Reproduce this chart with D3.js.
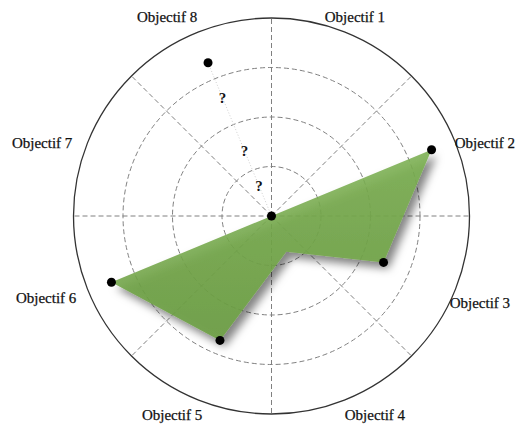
<!DOCTYPE html>
<html>
<head>
<meta charset="utf-8">
<script src="https://cdn.jsdelivr.net/npm/d3@7/dist/d3.min.js"></script>
<style>
  html, body { margin: 0; padding: 0; background: #fff; }
  svg { display: block; }
  text { font-family: "Liberation Serif", "Times New Roman", serif; }
</style>
</head>
<body>
<svg id="chart" width="525" height="425"></svg>
<script>
// ---- data ----
const categories = ["Objectif 1", "Objectif 2", "Objectif 3", "Objectif 4",
                    "Objectif 5", "Objectif 6", "Objectif 7", "Objectif 8"];
// known scores (Objectif 1 .. Objectif 7); Objectif 8 is uncertain
const knownCategories = ["Objectif 1", "Objectif 2", "Objectif 3", "Objectif 4",
                         "Objectif 5", "Objectif 6", "Objectif 7"];
const knownValues = [0, 3.5, 2.45, 0.78, 2.72, 3.5, 0];
// categories whose vertex carries a dot
const dottedCategories = ["Objectif 2", "Objectif 3", "Objectif 5", "Objectif 6", "Objectif 7"];
// uncertain score for Objectif 8 and the question marks along its axis
const uncertainCategory = "Objectif 8";
const uncertainValue = 3.35;
const questionValues = [0.66, 1.43, 2.59];
const ringValues = [1, 2, 3, 4];
const maxValue = 4;

// ---- layout ----
const cx = 271.5, cy = 216, R = 198;
const svg = d3.select("#chart");
const defs = svg.append("defs");

const rScale = d3.scaleLinear().domain([0, maxValue]).range([0, R]);
const angleScale = d3.scaleBand().domain(categories).range([0, 2 * Math.PI]);
const labelAngle = c => angleScale(c) + angleScale.bandwidth() / 2; // 22.5°, 67.5°, ...

const g = svg.append("g").attr("transform", `translate(${cx},${cy})`);
const pt = (c, v) => {
  const a = labelAngle(c), r = rScale(v);
  return [r * Math.sin(a), -r * Math.cos(a)];
};

// shadow filter & gradient
const f = defs.append("filter").attr("id", "shadow")
  .attr("x", "-20%").attr("y", "-20%").attr("width", "140%").attr("height", "140%");
f.append("feDropShadow").attr("dx", 5).attr("dy", 6).attr("stdDeviation", 4)
  .attr("flood-color", "#000").attr("flood-opacity", 0.55);
const grad = defs.append("linearGradient").attr("id", "greenGrad")
  .attr("x1", "0").attr("y1", "0").attr("x2", "0").attr("y2", "1");
grad.append("stop").attr("offset", "0%").attr("stop-color", "#7cb052");
grad.append("stop").attr("offset", "100%").attr("stop-color", "#6b9e42");

// grid rings (dashed) and outer circle (solid)
g.selectAll("circle.ring").data(ringValues.filter(v => v < maxValue)).join("circle")
  .attr("class", "ring").attr("r", d => rScale(d))
  .attr("fill", "none").attr("stroke", "#808080").attr("stroke-width", 1)
  .attr("stroke-dasharray", "5,3");

// spokes (dashed) every 45°
const spokes = d3.range(8).map(i => i * Math.PI / 4);
g.selectAll("line.spoke").data(spokes).join("line")
  .attr("class", "spoke")
  .attr("x1", 0).attr("y1", 0)
  .attr("x2", a => R * Math.sin(a)).attr("y2", a => -R * Math.cos(a))
  .attr("stroke", "#808080").attr("stroke-width", 1).attr("stroke-dasharray", "5,3");

g.append("circle").attr("r", rScale(maxValue))
  .attr("fill", "none").attr("stroke", "#333").attr("stroke-width", 1.3);

// filled polygon
const radial = d3.lineRadial()
  .angle(d => labelAngle(d.c))
  .radius(d => rScale(d.v))
  .curve(d3.curveLinearClosed);
const polyData = knownCategories.map((c, i) => ({ c, v: knownValues[i] }));
g.append("path").datum(polyData)
  .attr("d", radial)
  .attr("fill", "url(#greenGrad)").attr("fill-opacity", 0.88)
  .attr("filter", "url(#shadow)");

// faint line toward the uncertain point
const up = pt(uncertainCategory, uncertainValue);
g.append("line").attr("x1", 0).attr("y1", 0).attr("x2", up[0]).attr("y2", up[1])
  .attr("stroke", "#d0d0d0").attr("stroke-width", 1).attr("stroke-dasharray", "1,2");

// question marks
g.selectAll("text.q").data(questionValues).join("text")
  .attr("class", "q")
  .attr("x", v => pt(uncertainCategory, v)[0])
  .attr("y", v => pt(uncertainCategory, v)[1])
  .attr("dy", "0.35em").attr("text-anchor", "middle")
  .attr("font-weight", "bold").attr("font-size", 15).attr("fill", "#111")
  .text("?");

// dots
const dotData = polyData.filter(d => dottedCategories.includes(d.c))
  .concat([{ c: uncertainCategory, v: uncertainValue }]);
g.selectAll("circle.dot").data(dotData).join("circle")
  .attr("class", "dot")
  .attr("cx", d => pt(d.c, d.v)[0]).attr("cy", d => pt(d.c, d.v)[1])
  .attr("r", 4.5).attr("fill", "#000");

// labels
const labelR = 218;
const labelNudge = [[0, 2], [12, 10], [7, 3], [20, -3], [-16, -3], [-24, -2], [-28, 10], [-21, 2]];
g.selectAll("text.lab").data(categories).join("text")
  .attr("class", "lab")
  .attr("x", (c, i) => labelR * Math.sin(labelAngle(c)) + labelNudge[i][0])
  .attr("y", (c, i) => -labelR * Math.cos(labelAngle(c)) + labelNudge[i][1])
  .attr("dy", "0.35em").attr("text-anchor", "middle")
  .attr("font-size", 15).attr("fill", "#111")
  .attr("stroke", "#111").attr("stroke-width", 0.25)
  .text(c => c);
</script>
</body>
</html>
